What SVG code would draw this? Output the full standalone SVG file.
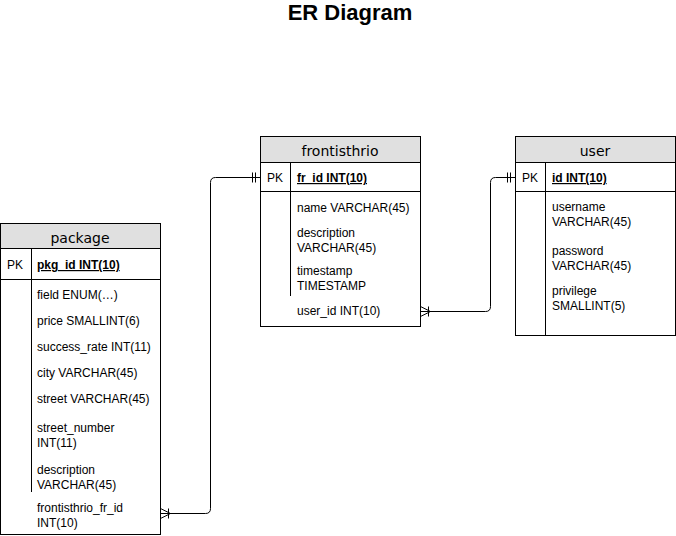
<svg xmlns="http://www.w3.org/2000/svg" width="676" height="536" viewBox="0 0 676 536">
<style>
.box{fill:#fff;stroke:#000;stroke-width:1}
.hdr{fill:#e0e0e0;stroke:#000;stroke-width:1}
.ln{stroke:#000;stroke-width:1;fill:none}
.t{font-family:"Liberation Sans",Arial,sans-serif;font-size:12px;fill:#000}
.h{font-family:"DejaVu Sans",Verdana,sans-serif;font-size:14px;fill:#000;text-anchor:middle}
.pk{font-weight:bold;text-decoration:underline}
.title{font-family:"Liberation Sans",Arial,sans-serif;font-size:22px;font-weight:bold;text-anchor:middle}
</style>
<rect width="676" height="536" fill="#fff"/>
<text class="title" x="350" y="20">ER Diagram</text>
<g id="package">
<rect class="box" x="0.5" y="223.5" width="160" height="311"/>
<rect class="hdr" x="0.5" y="223.5" width="160" height="25"/>
<line class="ln" x1="0.5" y1="279.5" x2="160.5" y2="279.5"/>
<line class="ln" x1="31.5" y1="248.5" x2="31.5" y2="492"/>
<text class="h" x="80" y="243">package</text>
<text class="t" x="7" y="269">PK</text>
<text class="t pk" x="37" y="269">pkg_id INT(10)</text>
<text class="t" x="37" y="299">field ENUM(…)</text>
<text class="t" x="37" y="325">price SMALLINT(6)</text>
<text class="t" x="37" y="351">success_rate INT(11)</text>
<text class="t" x="37" y="377">city VARCHAR(45)</text>
<text class="t" x="37" y="403">street VARCHAR(45)</text>
<text class="t" x="37" y="432">street_number</text>
<text class="t" x="37" y="447">INT(11)</text>
<text class="t" x="37" y="474">description</text>
<text class="t" x="37" y="489">VARCHAR(45)</text>
<text class="t" x="37" y="512">frontisthrio_fr_id</text>
<text class="t" x="37" y="527">INT(10)</text>
</g>
<g id="frontisthrio">
<rect class="box" x="260.5" y="136.5" width="160" height="190"/>
<rect class="hdr" x="260.5" y="136.5" width="160" height="26"/>
<line class="ln" x1="260.5" y1="191.5" x2="420.5" y2="191.5"/>
<line class="ln" x1="290.5" y1="162.5" x2="290.5" y2="296"/>
<text class="h" x="340" y="156">frontisthrio</text>
<text class="t" x="267" y="182">PK</text>
<text class="t pk" x="297" y="182">fr_id INT(10)</text>
<text class="t" x="297" y="212">name VARCHAR(45)</text>
<text class="t" x="297" y="237">description</text>
<text class="t" x="297" y="252">VARCHAR(45)</text>
<text class="t" x="297" y="275">timestamp</text>
<text class="t" x="297" y="290">TIMESTAMP</text>
<text class="t" x="297" y="315">user_id INT(10)</text>
</g>
<g id="user">
<rect class="box" x="515.5" y="136.5" width="160" height="199"/>
<rect class="hdr" x="515.5" y="136.5" width="160" height="26"/>
<line class="ln" x1="515.5" y1="191.5" x2="675.5" y2="191.5"/>
<line class="ln" x1="545.5" y1="162.5" x2="545.5" y2="335.5"/>
<text class="h" x="595" y="156">user</text>
<text class="t" x="522" y="182">PK</text>
<text class="t pk" x="552" y="182">id INT(10)</text>
<text class="t" x="552" y="211">username</text>
<text class="t" x="552" y="226">VARCHAR(45)</text>
<text class="t" x="552" y="255">password</text>
<text class="t" x="552" y="270">VARCHAR(45)</text>
<text class="t" x="552" y="295">privilege</text>
<text class="t" x="552" y="310">SMALLINT(5)</text>
</g>
<g id="connectors">
<path class="ln" d="M160.5,513.5 H205.5 Q210.5,513.5 210.5,508.5 V182.5 Q210.5,177.5 215.5,177.5 H260.5"/>
<path class="ln" d="M160.5,508.5 L170.5,513.5 L160.5,518.5 M168.5,508.5 V518.5"/>
<path class="ln" d="M252.5,172.5 V182.5 M255.5,172.5 V182.5"/>
<path class="ln" d="M420.5,311.5 H485.5 Q490.5,311.5 490.5,306.5 V182.5 Q490.5,177.5 495.5,177.5 H515.5"/>
<path class="ln" d="M420.5,306.5 L430.5,311.5 L420.5,316.5 M428.5,306.5 V316.5"/>
<path class="ln" d="M507.5,172.5 V182.5 M510.5,172.5 V182.5"/>
</g>
</svg>
